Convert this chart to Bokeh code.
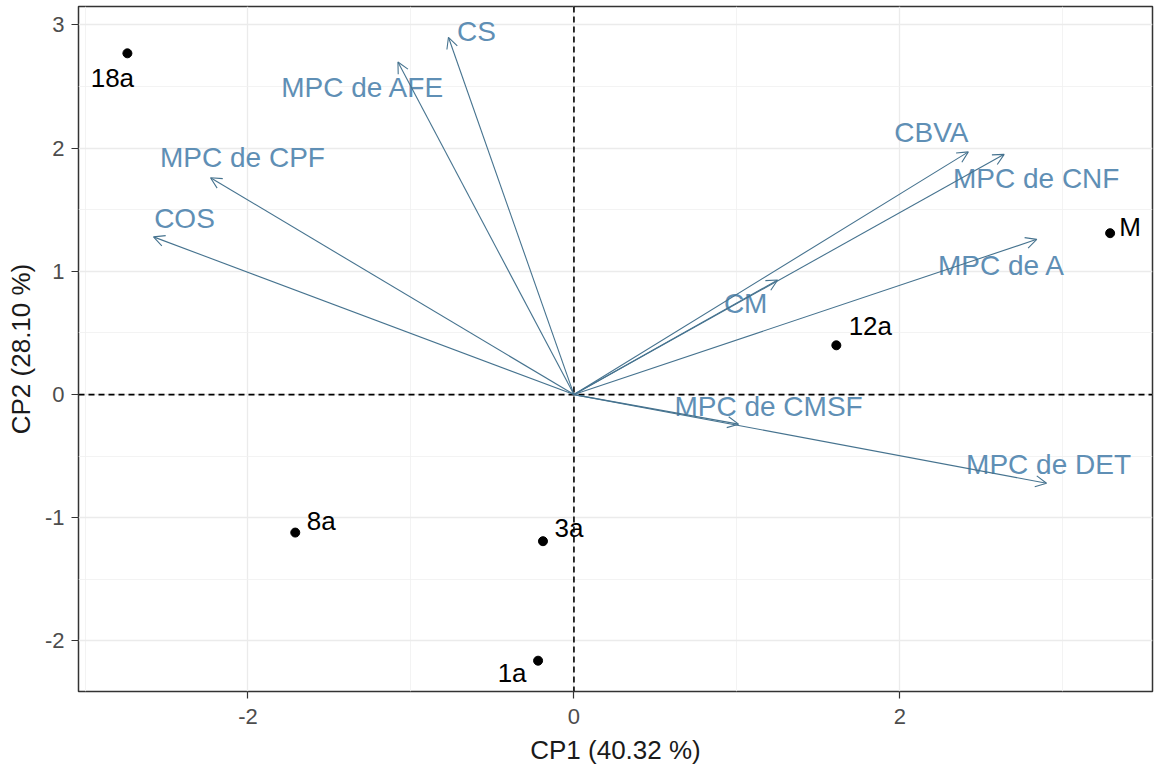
from bokeh.plotting import figure
from bokeh.models import ColumnDataSource, Arrow, OpenHead, Span, FixedTicker, Range1d
from bokeh.embed import file_html
from bokeh.resources import INLINE
from bokeh.core.properties import value

# ---- data ----
ind_names = ["18a", "M", "12a", "8a", "3a", "1a"]
ind_cp1 = [-2.74, 3.29, 1.61, -1.71, -0.19, -0.22]
ind_cp2 = [2.77, 1.31, 0.40, -1.12, -1.19, -2.16]

var_names = ["CS", "MPC de AFE", "MPC de CPF", "COS", "CBVA", "MPC de CNF",
             "MPC de A", "CM", "MPC de CMSF", "MPC de DET"]
var_cp1 = [-0.77, -1.08, -2.23, -2.58, 2.42, 2.64, 2.84, 1.25, 1.01, 2.90]
var_cp2 = [2.90, 2.70, 1.76, 1.28, 1.97, 1.95, 1.26, 0.93, -0.24, -0.72]

x_ticks = [-2, 0, 2]
y_ticks = [-2, -1, 0, 1, 2, 3]
x_title = "CP1 (40.32 %)"
y_title = "CP2 (28.10 %)"

# ---- label placement (pixels, screen offsets) ----
ind_dx = [-15, 20, 34, 26, 26, -26]
ind_dy = [25, -6, -19, -12, -13, 12]
var_dx = [28, -35, 32, 31, -37, 32, -35, -32, 30, 2]
var_dy = [-6, 26, -20, -18, -19, 24, 26, 23, -18, -19]

FONT = "Liberation Sans"
LABEL_COL = "#5f8fb5"
ARROW_COL = "#46738f"

p = figure(width=1154, height=767, output_backend="svg", toolbar_location=None,
           x_range=Range1d(-3.04, 3.55), y_range=Range1d(-2.41, 3.15),
           min_border_left=78, min_border_right=2, min_border_top=6, min_border_bottom=76)
p.background_fill_color = "white"
p.border_fill_color = "white"
p.outline_line_color = "#333333"
p.outline_line_width = 1.5

p.xaxis.ticker = FixedTicker(ticks=x_ticks, minor_ticks=[-3, -1, 1, 3])
p.yaxis.ticker = FixedTicker(ticks=y_ticks, minor_ticks=[-1.5, -0.5, 0.5, 1.5, 2.5])
p.xaxis.major_label_overrides = {t: str(t) for t in x_ticks}
p.yaxis.major_label_overrides = {t: str(t) for t in y_ticks}
for ax in (p.xaxis, p.yaxis):
    ax.axis_line_color = None
    ax.major_tick_line_color = "#333333"
    ax.major_tick_line_width = 1.2
    ax.major_tick_out = 7
    ax.major_tick_in = 0
    ax.minor_tick_line_color = None
    ax.major_label_text_font = FONT
    ax.major_label_text_font_size = "22px"
    ax.major_label_text_color = "#4d4d4d"
    ax.axis_label_text_font = FONT
    ax.axis_label_text_font_size = "26px"
    ax.axis_label_text_font_style = "normal"
    ax.axis_label_text_color = "#1a1a1a"
p.xaxis.axis_label = x_title
p.yaxis.axis_label = y_title
p.xaxis.major_label_standoff = 10
p.yaxis.major_label_standoff = 7
p.xaxis.axis_label_standoff = 8
p.yaxis.axis_label_standoff = 6

for g in (p.xgrid, p.ygrid):
    g.grid_line_color = "#ebebeb"
    g.grid_line_width = 1.3
    g.minor_grid_line_color = "#f0f0f0"
    g.minor_grid_line_width = 0.8

p.add_layout(Span(location=0, dimension="width", line_color="black", line_dash="6 4", line_width=1.6))
p.add_layout(Span(location=0, dimension="height", line_color="black", line_dash="6 4", line_width=1.6))

# variable arrows
vsrc = ColumnDataSource(dict(x0=[0] * len(var_names), y0=[0] * len(var_names),
                             x1=var_cp1, y1=var_cp2, name=var_names,
                             dx=var_dx, dy=var_dy))
p.add_layout(Arrow(end=OpenHead(line_color=ARROW_COL, line_width=1.1, size=11),
                   x_start="x0", y_start="y0", x_end="x1", y_end="y1",
                   line_color=ARROW_COL, line_width=1.1, source=vsrc))
p.text(x="x1", y="y1", text="name", x_offset="dx", y_offset="dy", source=vsrc,
       text_font=value(FONT), text_font_size="28px", text_color=LABEL_COL,
       text_align="center", text_baseline="middle")

# individuals
isrc = ColumnDataSource(dict(x=ind_cp1, y=ind_cp2, name=ind_names, dx=ind_dx, dy=ind_dy))
p.scatter(x="x", y="y", source=isrc, size=9, color="black")
p.text(x="x", y="y", text="name", x_offset="dx", y_offset="dy", source=isrc,
       text_font=value(FONT), text_font_size="26px", text_color="black",
       text_align="center", text_baseline="middle")

open("out.html", "w").write(file_html(p, INLINE))
